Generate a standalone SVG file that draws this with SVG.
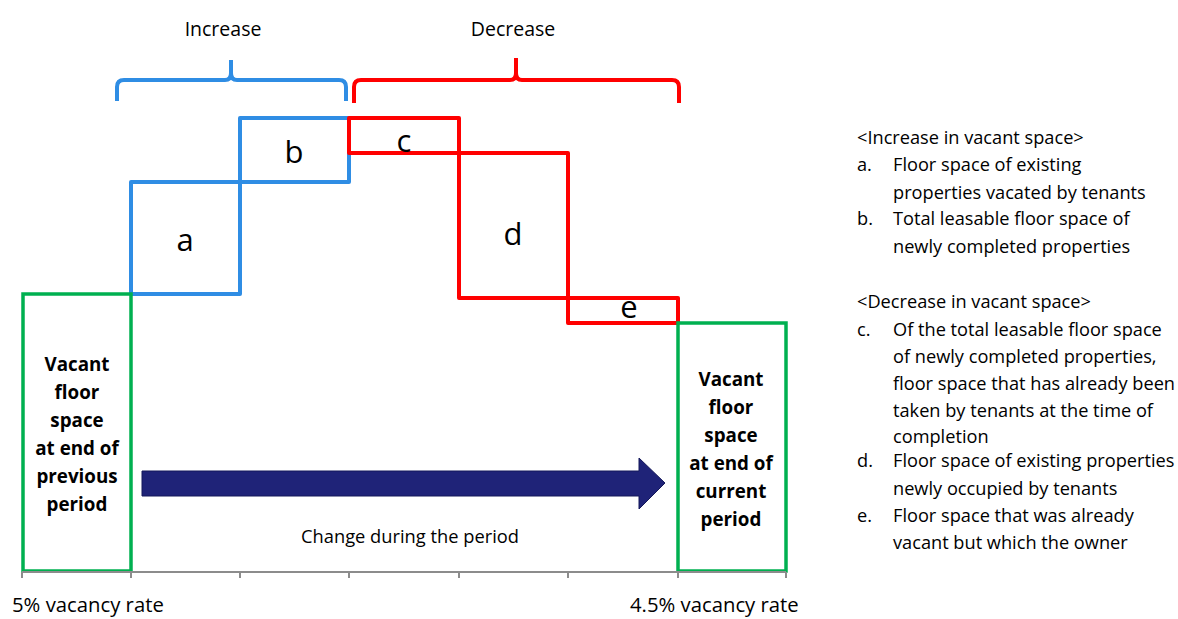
<svg xmlns="http://www.w3.org/2000/svg" width="1178" height="619" viewBox="0 0 1178 619">
  <style>
    .t { font-family: "Open Sans", "Noto Sans", "Liberation Sans", sans-serif; fill: #000; }
    .lbl { font-size: 19.5px; text-anchor: middle; }
    .axlbl { font-size: 20.3px; }
    .letter { font-size: 31px; text-anchor: middle; }
    .box { font-size: 18.8px; font-weight: bold; text-anchor: middle; }
    .note { font-size: 18.2px; }
    .blue { fill: none; stroke: #2F8DE4; stroke-width: 4; stroke-linejoin: round; }
    .red { fill: none; stroke: #FF0000; stroke-width: 4; stroke-linejoin: round; }
    .green { fill: none; stroke: #00B050; stroke-width: 3.5; }
    .axis { fill: none; stroke: #8C8C8C; stroke-width: 2; }
  </style>

  <!-- headings above the braces -->
  <text class="t lbl" x="223" y="36">Increase</text>
  <text class="t lbl" x="513" y="36">Decrease</text>

  <!-- braces -->
  <g id="brace-increase">
    <path class="blue" d="M117,101 V87 Q117,80 124,80 H225 Q231,80 231,73 V60 M231,73 Q231,80 237,80 H339 Q346,80 346,87 V101"/>
  </g>
  <g id="brace-decrease">
    <path class="red" d="M354,103 V87 Q354,80 361,80 H510 Q516,80 516,73 V58 M516,73 Q516,80 522,80 H672 Q679,80 679,87 V103"/>
  </g>

  <!-- step boxes -->
  <g id="node-a">
    <rect class="blue" x="131" y="182" width="109" height="112"/>
    <text class="t letter" x="185" y="251">a</text>
  </g>
  <g id="node-b">
    <rect class="blue" x="240" y="118" width="109" height="64"/>
    <text class="t letter" x="294" y="163">b</text>
  </g>
  <g id="node-c">
    <rect class="red" x="349" y="118" width="110" height="35"/>
    <text class="t letter" x="404" y="152">c</text>
  </g>
  <g id="node-d">
    <rect class="red" x="459" y="153" width="109" height="145"/>
    <text class="t letter" x="513" y="245">d</text>
  </g>
  <g id="node-e">
    <rect class="red" x="568" y="298" width="110" height="25"/>
    <text class="t letter" x="629" y="318">e</text>
  </g>

  <!-- start and end stocks -->
  <g id="node-start">
    <rect class="green" x="23" y="294" width="108" height="277"/>
    <text class="t box" x="77" y="371">Vacant</text>
    <text class="t box" x="77" y="399">floor</text>
    <text class="t box" x="77" y="427">space</text>
    <text class="t box" x="77" y="455">at end of</text>
    <text class="t box" x="77" y="483">previous</text>
    <text class="t box" x="77" y="511">period</text>
  </g>
  <g id="node-end">
    <rect class="green" x="678" y="323" width="108" height="248"/>
    <text class="t box" x="731" y="386">Vacant</text>
    <text class="t box" x="731" y="414">floor</text>
    <text class="t box" x="731" y="442">space</text>
    <text class="t box" x="731" y="470">at end of</text>
    <text class="t box" x="731" y="498">current</text>
    <text class="t box" x="731" y="526">period</text>
  </g>

  <!-- horizontal axis with ticks -->
  <g id="axis">
    <path class="axis" d="M22,572 H786 M22,572 V578 M131,572 V578 M240,572 V578 M349,572 V578 M459,572 V578 M568,572 V578 M678,572 V578 M786,572 V578"/>
    <text class="t axlbl" x="12" y="612">5% vacancy rate</text>
    <text class="t axlbl" x="630" y="612">4.5% vacancy rate</text>
  </g>

  <!-- change arrow -->
  <g id="connectors">
    <path d="M142,471 H639 V458 L665,483 L639,509 V496 H142 Z" fill="#1F2378" stroke="#15185A" stroke-width="1"/>
    <text class="t lbl" x="410" y="543" style="font-size:18.3px">Change during the period</text>
  </g>

  <!-- legend -->
  <g id="legend">
    <text class="t note" x="857" y="144">&lt;Increase in vacant space&gt;</text>
    <text class="t note" x="857" y="171">a.</text>
    <text class="t note" x="893" y="171">Floor space of existing</text>
    <text class="t note" x="893" y="199">properties vacated by tenants</text>
    <text class="t note" x="857" y="225">b.</text>
    <text class="t note" x="893" y="225">Total leasable floor space of</text>
    <text class="t note" x="893" y="253">newly completed properties</text>

    <text class="t note" x="857" y="308">&lt;Decrease in vacant space&gt;</text>
    <text class="t note" x="857" y="336">c.</text>
    <text class="t note" x="893" y="336">Of the total leasable floor space</text>
    <text class="t note" x="893" y="363">of newly completed properties,</text>
    <text class="t note" x="893" y="390">floor space that has already been</text>
    <text class="t note" x="893" y="417">taken by tenants at the time of</text>
    <text class="t note" x="893" y="443">completion</text>
    <text class="t note" x="857" y="467">d.</text>
    <text class="t note" x="893" y="467">Floor space of existing properties</text>
    <text class="t note" x="893" y="495">newly occupied by tenants</text>
    <text class="t note" x="857" y="522">e.</text>
    <text class="t note" x="893" y="522">Floor space that was already</text>
    <text class="t note" x="893" y="549">vacant but which the owner</text>
  </g>
</svg>
